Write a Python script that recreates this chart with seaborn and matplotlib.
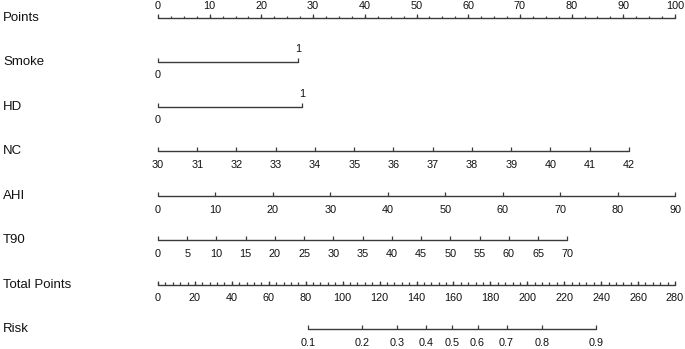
import numpy as np
import pandas as pd
import matplotlib
matplotlib.use("Agg")
import matplotlib.pyplot as plt
import matplotlib.transforms as mtransforms
import seaborn as sns

# rows of the nomogram, top to bottom
row_names = ["Points", "Smoke", "HD", "NC", "AHI", "T90", "Total Points", "Risk"]

# points scale
points_ticks = np.arange(0, 101, 10)
points_minor = np.arange(0, 100.1, 2.5)

# binary predictors: level labels and their points
smoke_labels = ["0", "1"]
smoke_points = [0, 27.1]
hd_labels = ["0", "1"]
hd_points = [0, 27.9]

# continuous predictors: tick values and points at the top value
nc_ticks = np.arange(30, 43, 1)
nc_points_max = 91.1
ahi_ticks = np.arange(0, 91, 10)
ahi_points_max = 100.0
t90_ticks = np.arange(0, 71, 5)
t90_points_max = 79.2

# total points scale (0..280 maps onto 0..100 points)
total_ticks = np.arange(0, 281, 20)
total_minor = np.arange(0, 280.1, 4)
total_max = 280

# risk labels and the total points where they sit
risk_labels = ["0.1", "0.2", "0.3", "0.4", "0.5", "0.6", "0.7", "0.8", "0.9"]
risk_total = [81.4, 110.3, 129.3, 145.0, 159.1, 173.1, 188.8, 208.1, 237.2]

sns.set_theme(style="white")
plt.rcParams["font.family"] = ["Liberation Sans", "DejaVu Sans"]

W, H = 685, 349
X0, X1 = 158, 675          # pixel x of 0 and 100 points
ROW0, STEP = 18, 44.43     # pixel y of first row, row spacing
ppx = (X1 - X0) / 100.0

fig = plt.figure(figsize=(W / 100, H / 100), dpi=100)
ax = fig.add_axes([0, 0, 1, 1])
ax.set_xlim(-X0 / ppx, (W - X0) / ppx)
ax.set_ylim((H - ROW0) / STEP, -ROW0 / STEP)
ax.axis("off")

line_col = "#3a3a3a"
txt_col = "#111111"
u = 1.0 / STEP  # one pixel in row units


def scale_pts(vals, vmin, vmax, pmax):
    vals = np.asarray(vals, dtype=float)
    return (vals - vmin) / (vmax - vmin) * pmax


# horizontal scale lines via seaborn
segs = {
    "Points": (0, 100),
    "Smoke": (smoke_points[0], smoke_points[-1]),
    "HD": (hd_points[0], hd_points[-1]),
    "NC": (0, nc_points_max),
    "AHI": (0, ahi_points_max),
    "T90": (0, t90_points_max),
    "Total Points": (0, 100),
    "Risk": (risk_total[0] * 100 / total_max, risk_total[-1] * 100 / total_max),
}
rows = []
for i, name in enumerate(row_names):
    a, b = segs[name]
    rows.append({"var": name, "x": a, "y": i})
    rows.append({"var": name, "x": b, "y": i})
df = pd.DataFrame(rows)
sns.lineplot(data=df, x="x", y="y", units="var", estimator=None, sort=False,
             color=line_col, linewidth=1.0, ax=ax, legend=False)
ax.set_xlim(-X0 / ppx, (W - X0) / ppx)
ax.set_ylim((H - ROW0) / STEP, -ROW0 / STEP)
ax.axis("off")

# row labels
lab_tr = mtransforms.blended_transform_factory(ax.transAxes, ax.transData)
for i, name in enumerate(row_names):
    ax.text(3 / W, i, name, transform=lab_tr, ha="left", va="center",
            fontsize=9.5, color=txt_col)


def ticks(row, xs, length=4):
    ax.vlines(xs, row - length * u, row, color=line_col, linewidth=0.9)


def labels(row, xs, texts, above=False, off=13.5):
    y = row - off * u if above else row + off * u
    for x, t in zip(xs, texts):
        ax.text(x, y, t, ha="center", va="center", fontsize=7.8, color=txt_col)


# Points
ticks(0, points_minor, 2)
ticks(0, points_ticks, 4)
labels(0, points_ticks, [str(v) for v in points_ticks], above=True, off=12)

# Smoke / HD
for r, pts, labs in [(1, smoke_points, smoke_labels), (2, hd_points, hd_labels)]:
    ticks(r, pts, 4)
    labels(r, [pts[0]], [labs[0]], above=False, off=13)
    labels(r, [pts[1]], [labs[1]], above=True, off=13)

# NC, AHI, T90
for r, tk, pmax in [(3, nc_ticks, nc_points_max), (4, ahi_ticks, ahi_points_max),
                    (5, t90_ticks, t90_points_max)]:
    xs = scale_pts(tk, tk[0], tk[-1], pmax)
    ticks(r, xs, 4)
    labels(r, xs, [str(v) for v in tk], off=14)

# Total points
ticks(6, np.asarray(total_minor) * 100 / total_max, 2.5)
xs = np.asarray(total_ticks) * 100 / total_max
ticks(6, xs, 4)
labels(6, xs, [str(v) for v in total_ticks], off=13.5)

# Risk
xs = np.asarray(risk_total) * 100 / total_max
ticks(7, xs, 4)
labels(7, xs, risk_labels, off=13.5)

fig.savefig("out.png", dpi=100)
